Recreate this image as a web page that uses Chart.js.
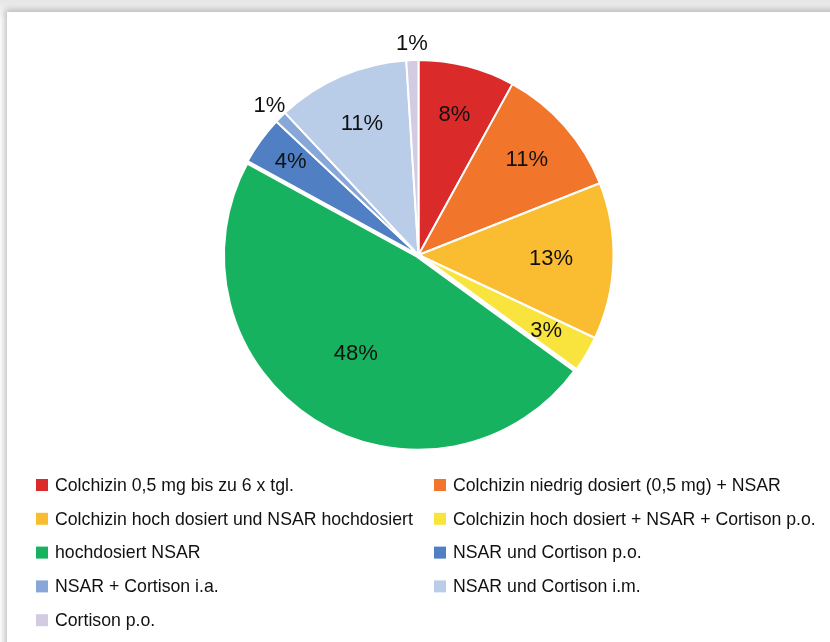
<!DOCTYPE html>
<html lang="de">
<head>
<meta charset="utf-8">
<title>Therapie der Gichtanfälle</title>
<script src="https://cdn.jsdelivr.net/npm/chart.js@4.4.1/dist/chart.umd.min.js"></script>
<style>
  html, body { margin: 0; padding: 0; background: #ffffff; width: 830px; height: 642px; overflow: hidden; }
  body { background: linear-gradient(#e6e6e6, #f4f4f4 12px, #ffffff 20px); }
  .card {
    position: absolute; left: 7px; top: 12px; width: 840px; height: 650px;
    background: #ffffff;
    box-shadow: -2px -2px 7px rgba(0,0,0,0.28);
  }
  .card canvas { position: absolute; left: 0; top: 0; }
</style>
</head>
<body>
<div class="card"><canvas id="pie" width="823" height="630"></canvas></div>
<script>
// Behandlungsformen und ihre Anteile in Prozent
const categories = [
  'Colchizin 0,5 mg bis zu 6 x tgl.',
  'Colchizin niedrig dosiert (0,5 mg) + NSAR',
  'Colchizin hoch dosiert und NSAR hochdosiert',
  'Colchizin hoch dosiert + NSAR + Cortison p.o.',
  'hochdosiert NSAR',
  'NSAR und Cortison p.o.',
  'NSAR + Cortison i.a.',
  'NSAR und Cortison i.m.',
  'Cortison p.o.'
];
const shares = [8, 11, 13, 3, 48, 4, 1, 11, 1];
const sliceColors = ['#da2a29', '#f1752a', '#fabd31', '#f8e43c', '#17b25f', '#507fc3', '#86a7d8', '#b9cde9', '#d3cbe1'];

// Abstand der Prozentangabe vom Mittelpunkt (Anteil am Radius); sehr kleine Segmente außen
const labelRadius = [0.74, 0.74, 0.68, 0.76, 0.60, 0.81, null, 0.73, null];

const percentLabels = {
  id: 'percentLabels',
  afterDatasetsDraw(chart) {
    const ctx = chart.ctx;
    const meta = chart.getDatasetMeta(0);
    ctx.save();
    ctx.font = '22px "Liberation Sans", Arial, sans-serif';
    ctx.fillStyle = '#111111';
    ctx.textAlign = 'center';
    ctx.textBaseline = 'middle';
    meta.data.forEach((arc, i) => {
      const p = arc.getProps(['x', 'y', 'startAngle', 'endAngle', 'outerRadius'], true);
      const mid = (p.startAngle + p.endAngle) / 2;
      const r = labelRadius[i] === null ? p.outerRadius + 16 : p.outerRadius * labelRadius[i];
      ctx.fillText(shares[i] + '%', p.x + Math.cos(mid) * r, p.y + Math.sin(mid) * r);
    });
    ctx.restore();
  }
};

// Legende in zwei Spalten unter dem Kreis
const twoColumnLegend = {
  id: 'twoColumnLegend',
  afterDraw(chart) {
    const ctx = chart.ctx;
    const colX = [29, 427];
    const rowY0 = 473, rowStep = 33.8, box = 12;
    ctx.save();
    ctx.font = '17.7px "Liberation Sans", Arial, sans-serif';
    ctx.textBaseline = 'middle';
    ctx.textAlign = 'left';
    categories.forEach((name, i) => {
      const x = colX[i % 2];
      const y = rowY0 + Math.floor(i / 2) * rowStep;
      ctx.fillStyle = sliceColors[i];
      ctx.fillRect(x, y - box / 2, box, box);
      ctx.fillStyle = '#111111';
      ctx.fillText(name, x + 19, y + 1);
    });
    ctx.restore();
  }
};

new Chart(document.getElementById('pie'), {
  type: 'pie',
  data: {
    labels: categories,
    datasets: [{
      data: shares,
      backgroundColor: sliceColors,
      borderColor: '#ffffff',
      borderWidth: [2, 2, 2, 2, 5, 2, 2, 2, 2],
      offset: [0, 0, 0, 0, 3, 0, 0, 0, 0]
    }]
  },
  options: {
    responsive: false,
    animation: false,
    radius: 195,
    layout: { padding: { top: 40, bottom: 184, left: 0, right: 0 } },
    plugins: {
      legend: { display: false },
      tooltip: { enabled: false }
    }
  },
  plugins: [percentLabels, twoColumnLegend]
});
</script>
</body>
</html>
